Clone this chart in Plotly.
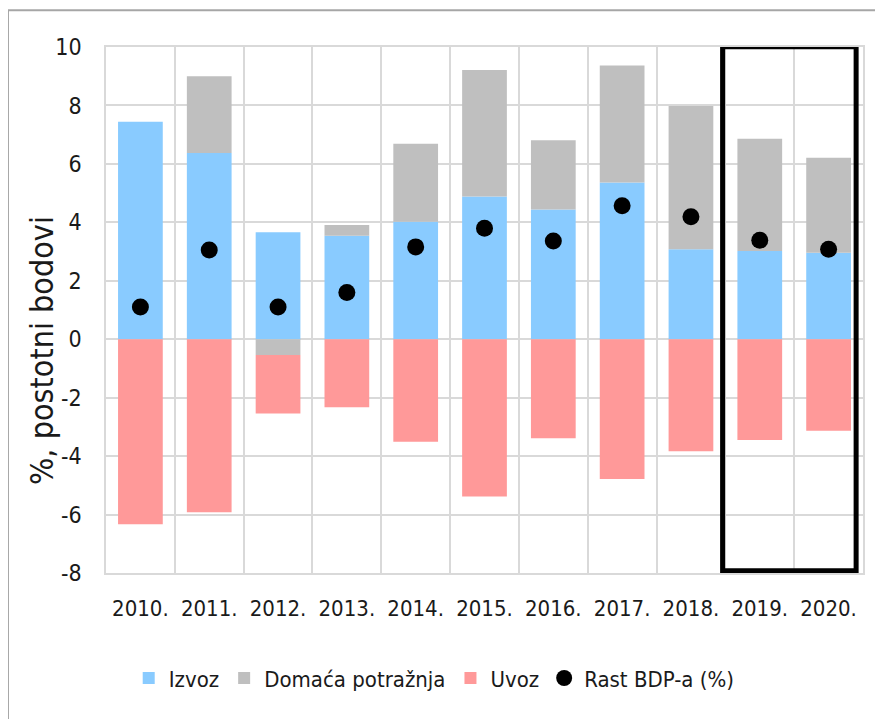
import plotly.graph_objects as go

# godine i doprinosi rastu BDP-a (postotni bodovi)
years = ["2010.", "2011.", "2012.", "2013.", "2014.", "2015.",
         "2016.", "2017.", "2018.", "2019.", "2020."]
izvoz = [7.44, 6.37, 3.66, 3.54, 4.02, 4.88, 4.44, 5.36, 3.08, 3.02, 2.96]
domaca = [0.0, 2.63, -0.54, 0.37, 2.67, 4.33, 2.37, 4.01, 4.90, 3.84, 3.25]
uvoz = [-6.33, -5.92, -2.00, -2.33, -3.51, -5.38, -3.39, -4.78, -3.83, -3.45, -3.13]
rast_bdp = [1.1, 3.05, 1.1, 1.6, 3.16, 3.8, 3.36, 4.57, 4.19, 3.39, 3.08]

y_ticks = [10, 8, 6, 4, 2, 0, -2, -4, -6, -8]
y_tick_text = ["10", "8", "6", "4", "2", "0", "-2", "-4", "-6", "-8"]

FONT = "DejaVu Sans Condensed, DejaVu Sans, sans-serif"
GRID = "#d9d9d9"
TXT = "#1a1a1a"

fig = go.Figure()
fig.add_trace(go.Bar(x=years, y=izvoz, name="Izvoz",
                     marker=dict(color="#89cbff", line=dict(width=0))))
fig.add_trace(go.Bar(x=years, y=domaca, name="Domaća potražnja",
                     marker=dict(color="#bfbfbf", line=dict(width=0))))
fig.add_trace(go.Bar(x=years, y=uvoz, name="Uvoz",
                     marker=dict(color="#ff9999", line=dict(width=0))))
fig.add_trace(go.Scatter(x=years, y=rast_bdp, name="Rast BDP-a (%)", mode="markers",
                         marker=dict(color="black", size=17, symbol="circle")))

# okvir oko prognoze 2019.-2020.
fig.add_shape(type="rect", xref="x", yref="y", x0=8.46, x1=10.4, y0=-7.92, y1=10.01,
              line=dict(color="black", width=5), layer="above")

# vanjski okvir grafikona
fig.add_shape(type="rect", xref="paper", yref="paper", x0=-0.1295, x1=1.04, y0=-0.29, y1=1.07,
              line=dict(color="#a6a6a6", width=2))

fig.add_annotation(text="%, postotni bodovi", xref="paper", yref="paper",
                   x=(42 - 106) / 757, y=(573 - 351) / 526, textangle=-90, showarrow=False,
                   xanchor="center", yanchor="middle",
                   font=dict(family=FONT, size=32, color=TXT))

# stranica ima 8 px margine u body-ju, pa je figura za toliko manja
fig.update_layout(
    width=875, height=711,
    barmode="relative",
    bargap=0.35,
    plot_bgcolor="white",
    paper_bgcolor="white",
    margin=dict(l=98, r=20, t=39, b=146, autoexpand=False),
    font=dict(family=FONT, size=22, color=TXT),
    showlegend=True,
    legend=dict(orientation="h", x=0.03, y=-0.2, xanchor="left", yanchor="middle",
                font=dict(family=FONT, size=22, color=TXT), traceorder="normal",
                itemwidth=30, tracegroupgap=0),
    xaxis=dict(range=[-0.5, 10.5], tickson="boundaries", showgrid=True, gridcolor=GRID,
               gridwidth=1.5, showline=True, linecolor=GRID, linewidth=1.5, mirror=True,
               ticks="", ticklabelstandoff=15, automargin=False,
               tickfont=dict(size=22)),
    yaxis=dict(range=[-8, 10], tickvals=y_ticks, ticktext=y_tick_text, showgrid=True,
               gridcolor=GRID, gridwidth=1.5, zeroline=False, showline=True,
               linecolor=GRID, linewidth=1.5, mirror=True, ticks="",
               ticklabelstandoff=18, automargin=False, tickfont=dict(size=23)),
)

fig.write_html("out.html")
